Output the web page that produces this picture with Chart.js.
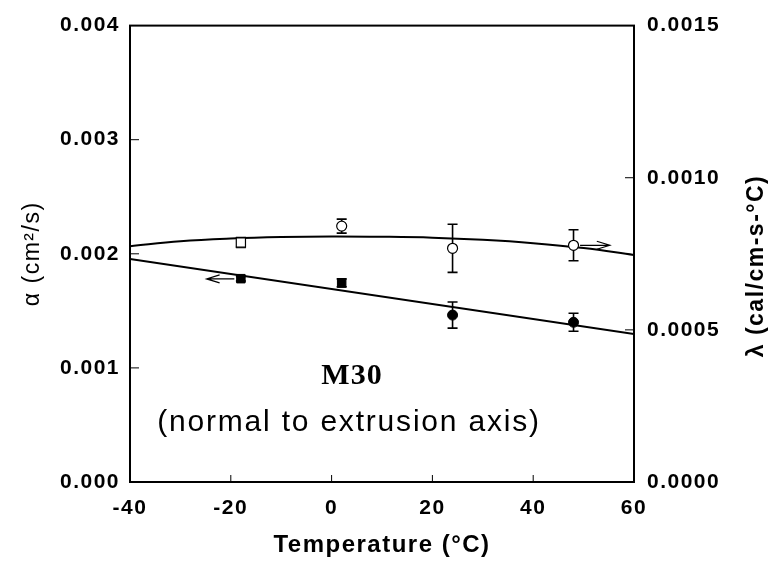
<!DOCTYPE html>
<html>
<head>
<meta charset="utf-8">
<script src="https://cdn.jsdelivr.net/npm/chart.js@4.4.1/dist/chart.umd.min.js"></script>
<style>
  html, body { margin: 0; padding: 0; background: #fff; }
</style>
</head>
<body>
<canvas id="chart" width="773" height="561"></canvas>
<script>
// measured points (temperature in degrees C)
const temps = [-18, 2, 24, 48];
const alphaVals = [0.001782, 0.001745, 0.001463, 0.001400];
const alphaErr = [0.00002, 0.000035, 0.000114, 0.000079];
const lambdaVals = [0.000787, 0.000841, 0.000768, 0.000778];
const lambdaErr = [0.000016, 0.000023, 0.000079, 0.000051];

// fitted curves
const alphaFitT = [-40, 60];
const alphaFit = [0.001955, 0.001298];
const lambdaFitT = [-40, -30, -20, -10, 0, 10, 20, 30, 40, 50, 60];
const lambdaFit = [0.000775, 0.000791, 0.000800, 0.000805, 0.000807, 0.000806, 0.000803, 0.000796, 0.000785, 0.000769, 0.000746];

// axis ticks
const xTicks = [-40, -20, 0, 20, 40, 60];
const alphaTicks = [0, 0.001, 0.002, 0.003, 0.004];
const lambdaTicks = [0, 0.0005, 0.0010, 0.0015];

const FONT = "Arial, 'Liberation Sans', sans-serif";
const SPACING = '1.5px';

function pts(xs, ys) {
    return xs.map((x, i) => ({ x: x, y: ys[i] }));
}

// arrows pointing to the axis each series belongs to
const arrows = [
    { scale: 'y', from: -19.3, to: -24.8, v: 0.00178 },
    { scale: 'y2', from: 49.3, to: 55.2, v: 0.000778 }
];

const figurePlugin = {
    id: 'figure',
    beforeUpdate(chart) { chart.ctx.letterSpacing = SPACING; },
    beforeDraw(chart) { chart.ctx.letterSpacing = SPACING; },
    beforeDatasetsDraw(chart) {
        // error bars under the markers
        const ctx = chart.ctx;
        const x = chart.scales.x;
        const sets = [[chart.scales.y, alphaVals, alphaErr], [chart.scales.y2, lambdaVals, lambdaErr]];
        ctx.save();
        ctx.strokeStyle = '#000';
        ctx.lineWidth = 1.6;
        sets.forEach(([ys, vals, errs]) => {
            temps.forEach((t, i) => {
                const px = x.getPixelForValue(t);
                const top = ys.getPixelForValue(vals[i] + errs[i]);
                const bot = ys.getPixelForValue(vals[i] - errs[i]);
                ctx.beginPath();
                ctx.moveTo(px, top); ctx.lineTo(px, bot);
                ctx.moveTo(px - 5, top); ctx.lineTo(px + 5, top);
                ctx.moveTo(px - 5, bot); ctx.lineTo(px + 5, bot);
                ctx.stroke();
            });
        });
        ctx.restore();
    },
    afterDraw(chart) {
        const ctx = chart.ctx;
        const a = chart.chartArea;
        const x = chart.scales.x, y = chart.scales.y, y2 = chart.scales.y2;
        ctx.save();
        ctx.strokeStyle = '#000';
        ctx.fillStyle = '#000';

        // frame
        ctx.lineWidth = 2;
        ctx.strokeRect(a.left, a.top, a.right - a.left, a.bottom - a.top);

        // inward tick marks
        ctx.lineWidth = 1;
        ctx.beginPath();
        xTicks.slice(1, -1).forEach(v => {
            const px = x.getPixelForValue(v);
            ctx.moveTo(px, a.bottom); ctx.lineTo(px, a.bottom - 7);
        });
        alphaTicks.slice(1, -1).forEach(v => {
            const py = y.getPixelForValue(v);
            ctx.moveTo(a.left, py); ctx.lineTo(a.left + 9, py);
        });
        lambdaTicks.slice(1, -1).forEach(v => {
            const py = y2.getPixelForValue(v);
            ctx.moveTo(a.right, py); ctx.lineTo(a.right - 9, py);
        });
        ctx.stroke();

        // arrows
        ctx.lineWidth = 1.2;
        arrows.forEach(ar => {
            const s = chart.scales[ar.scale];
            const py = s.getPixelForValue(ar.v);
            const x0 = x.getPixelForValue(ar.from);
            const x1 = x.getPixelForValue(ar.to);
            const dir = Math.sign(x1 - x0);
            ctx.beginPath();
            ctx.moveTo(x0, py); ctx.lineTo(x1, py);
            ctx.moveTo(x1 - dir * 13, py - 4); ctx.lineTo(x1, py); ctx.lineTo(x1 - dir * 13, py + 4);
            ctx.stroke();
        });

        // labels inside the plot
        ctx.letterSpacing = '1px';
        ctx.textAlign = 'center';
        ctx.textBaseline = 'middle';
        ctx.font = "bold 30px 'Times New Roman', 'Liberation Serif', serif";
        ctx.fillText('M30', 352, 376);
        ctx.letterSpacing = '1.8px';
        ctx.font = '30px ' + FONT;
        ctx.fillText('(normal to extrusion axis)', 349, 423);

        // right axis title, reads bottom to top
        ctx.letterSpacing = SPACING;
        ctx.font = 'bold 23px ' + FONT;
        ctx.translate(757, 266);
        ctx.rotate(-Math.PI / 2);
        ctx.fillText('\u03bb (cal/cm-s-\u00b0C)', 0, 0);
        ctx.restore();
    }
};

const ctx = document.getElementById('chart').getContext('2d');

new Chart(ctx, {
    type: 'scatter',
    data: {
        datasets: [
            {
                label: 'alpha',
                data: pts(temps, alphaVals),
                yAxisID: 'y',
                pointStyle: ['rect', 'rect', 'circle', 'circle'],
                pointRadius: [6, 6, 5, 5],
                backgroundColor: '#000',
                borderColor: '#000',
                borderWidth: 1
            },
            {
                label: 'lambda',
                data: pts(temps, lambdaVals),
                yAxisID: 'y2',
                pointStyle: ['rect', 'circle', 'circle', 'circle'],
                pointRadius: [6.5, 5, 5, 5],
                backgroundColor: '#fff',
                borderColor: '#000',
                borderWidth: 1.2
            },
            {
                label: 'alpha fit',
                data: pts(alphaFitT, alphaFit),
                yAxisID: 'y',
                showLine: true,
                pointRadius: 0,
                borderColor: '#000',
                borderWidth: 2
            },
            {
                label: 'lambda fit',
                data: pts(lambdaFitT, lambdaFit),
                yAxisID: 'y2',
                showLine: true,
                tension: 0.4,
                pointRadius: 0,
                borderColor: '#000',
                borderWidth: 2
            }
        ]
    },
    options: {
        responsive: false,
        animation: false,
        layout: { padding: { top: 19, left: 0, right: 0, bottom: 0 } },
        plugins: {
            legend: { display: false },
            tooltip: { enabled: false }
        },
        scales: {
            x: {
                type: 'linear',
                min: -40,
                max: 60,
                afterBuildTicks: s => { s.ticks = xTicks.map(v => ({ value: v })); },
                afterFit: s => { s.height = 79; },
                grid: { display: false, drawTicks: false },
                border: { display: false },
                ticks: {
                    color: '#000',
                    padding: 14,
                    maxRotation: 0,
                    font: { family: FONT, size: 21, weight: 'bold' }
                },
                title: {
                    display: true,
                    text: 'Temperature (\u00b0C)',
                    color: '#000',
                    padding: { top: 0, bottom: 1 },
                    font: { family: FONT, size: 24, weight: 'bold' }
                }
            },
            y: {
                position: 'left',
                min: 0,
                max: 0.004,
                afterBuildTicks: s => { s.ticks = alphaTicks.map(v => ({ value: v })); },
                afterFit: s => { s.width = 130; },
                grid: { display: false, drawTicks: false },
                border: { display: false },
                ticks: {
                    color: '#000',
                    padding: 10,
                    font: { family: FONT, size: 21, weight: 'bold' },
                    callback: v => v.toFixed(3)
                },
                title: {
                    display: true,
                    text: '\u03b1 (cm\u00b2/s)',
                    color: '#000',
                    padding: { top: 19, bottom: 0 },
                    font: { family: FONT, size: 23 }
                }
            },
            y2: {
                position: 'right',
                min: 0,
                max: 0.0015,
                afterBuildTicks: s => { s.ticks = lambdaTicks.map(v => ({ value: v })); },
                afterFit: s => { s.width = 139; },
                grid: { display: false, drawTicks: false },
                border: { display: false },
                ticks: {
                    color: '#000',
                    padding: 13,
                    font: { family: FONT, size: 21, weight: 'bold' },
                    callback: v => v.toFixed(4)
                }
            }
        }
    },
    plugins: [figurePlugin]
});
</script>
</body>
</html>
